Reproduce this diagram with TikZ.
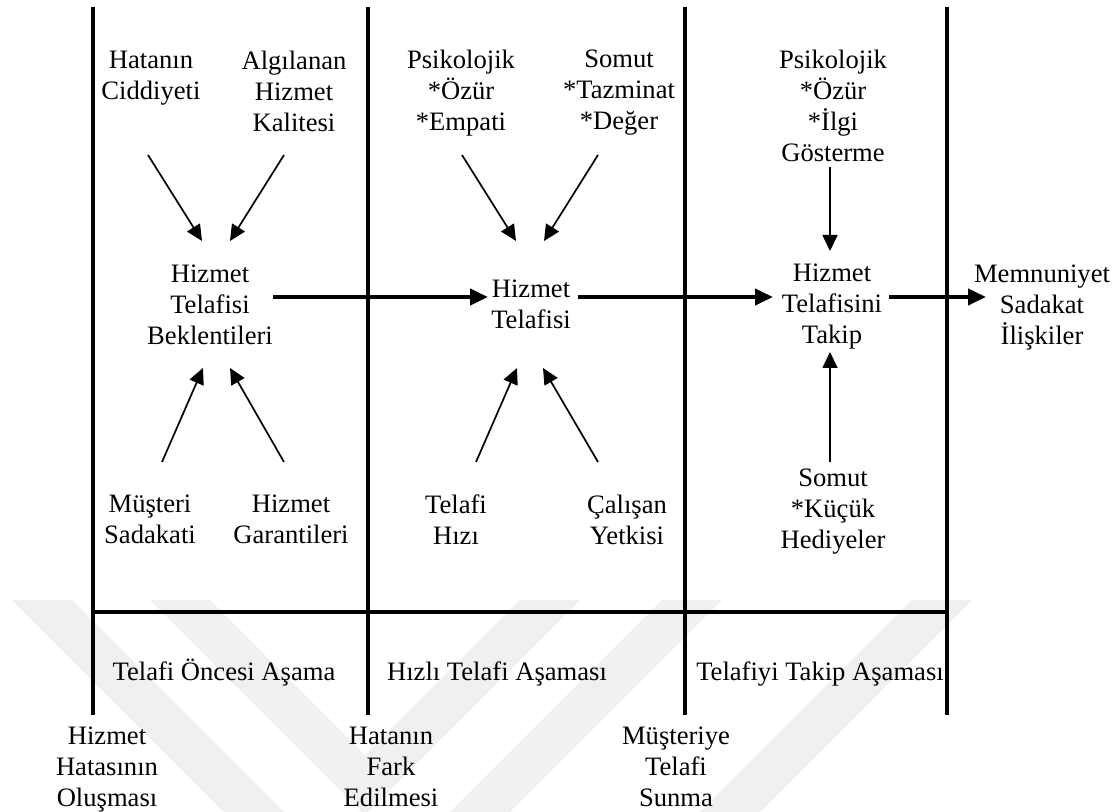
\documentclass[tikz,border=0pt]{standalone}
\usepackage{fontspec}
\setmainfont{Liberation Serif}
\usetikzlibrary{arrows.meta}
\begin{document}
\begin{tikzpicture}[x=0.5pt,y=-0.5pt,
  lbl/.style={align=center, inner sep=0pt, anchor=north, yshift=7.85pt,
    font=\fontsize{13.3}{15.5}\selectfont, execute at begin node=\strut},
  onelbl/.style={lbl, yshift=3pt},
  rule/.style={line width=2.2pt},
  thinarrow/.style={line width=0.85pt, -{Triangle[length=8pt,width=7.5pt]}},
  flow/.style={line width=2pt, -{Triangle[length=9pt,width=8pt]}},
  wmark/.style={fill=black!6, draw=none}
]
\useasboundingbox (0,0) rectangle (1118,812);

% faint background logo
\begin{scope}
\clip (0,0) rectangle (1118,812);
\fill[wmark] (12,600) -- (72,600) -- (284,812) -- (224,812) -- cycle;
\fill[wmark] (150,600) -- (365,815) -- (580,600) -- (520,600) -- (365,755) -- (210,600) -- cycle;
\fill[wmark] (450,812) -- (510,812) -- (722,600) -- (662,600) -- cycle;
\fill[wmark] (700,812) -- (760,812) -- (972,600) -- (912,600) -- cycle;
\end{scope}

% phase boundaries
\coordinate (v1t) at (93,7);   \coordinate (v1b) at (93,715);
\coordinate (v2t) at (368,7);  \coordinate (v2b) at (368,715);
\coordinate (v3t) at (685,7);  \coordinate (v3b) at (685,715);
\coordinate (v4t) at (947,7);  \coordinate (v4b) at (947,715);
\coordinate (hl) at (93,612);  \coordinate (hr) at (947,612);
\draw[rule] (v1t) -- (v1b);
\draw[rule] (v2t) -- (v2b);
\draw[rule] (v3t) -- (v3b);
\draw[rule] (v4t) -- (v4b);
\draw[rule] (hl) -- (hr);

% pre-recovery phase
\node[lbl] (ciddiyet) at (151,66) {Hatanın\\Ciddiyeti};
\node[lbl] (kalite) at (294,66) {Algılanan\\Hizmet\\Kalitesi};
\node[lbl] (beklenti) at (210,280) {Hizmet\\Telafisi\\Beklentileri};
\node[lbl] (sadakat) at (150,510) {Müşteri\\Sadakati};
\node[lbl] (garanti) at (291,510) {Hizmet\\Garantileri};

% immediate recovery phase
\node[lbl] (psiko) at (461,65) {Psikolojik\\*Özür\\*Empati};
\node[lbl] (somut) at (619,65) {Somut\\*Tazminat\\*Değer};
\node[lbl] (telafi) at (531,295) {Hizmet\\Telafisi};
\node[lbl] (hiz) at (456,510) {Telafi\\Hızı};
\node[lbl] (yetki) at (627,510) {Çalışan\\Yetkisi};

% follow-up phase
\node[lbl] (psiko2) at (833,65) {Psikolojik\\*Özür\\*İlgi\\Gösterme};
\node[lbl] (takip) at (832,279) {Hizmet\\Telafisini\\Takip};
\node[lbl] (hediye) at (833,484) {Somut\\*Küçük\\Hediyeler};
\node[lbl] (sonuc) at (1042,280) {Memnuniyet\\Sadakat\\İlişkiler};

% phase names
\node[onelbl] (faz1) at (224,680) {Telafi Öncesi Aşama};
\node[onelbl] (faz2) at (497,680) {Hızlı Telafi Aşaması};
\node[onelbl] (faz3) at (820,680) {Telafiyi Takip Aşaması};

% milestones
\node[lbl] (olus) at (107,742) {Hizmet\\Hatasının\\Oluşması};
\node[lbl] (fark) at (391,742) {Hatanın\\Fark\\Edilmesi};
\node[lbl] (sunma) at (676,742) {Müşteriye\\Telafi\\Sunma};

% arrow end points
\coordinate (a1s) at (148,155); \coordinate (a1e) at (202,241);
\coordinate (a2s) at (284,155); \coordinate (a2e) at (230,241);
\coordinate (a3s) at (162,462); \coordinate (a3e) at (203,368);
\coordinate (a4s) at (284,462); \coordinate (a4e) at (230,368);
\coordinate (b1s) at (462,155); \coordinate (b1e) at (516,241);
\coordinate (b2s) at (598,155); \coordinate (b2e) at (544,241);
\coordinate (b3s) at (476,462); \coordinate (b3e) at (517,368);
\coordinate (b4s) at (598,462); \coordinate (b4e) at (543,368);
\coordinate (c1s) at (830,167); \coordinate (c1e) at (830,251);
\coordinate (c2s) at (830,462); \coordinate (c2e) at (830,352);
\coordinate (f1s) at (273,297); \coordinate (f1e) at (488,297);
\coordinate (f2s) at (578,297); \coordinate (f2e) at (773,297);
\coordinate (f3s) at (889,297); \coordinate (f3e) at (986,297);

\draw[thinarrow] (a1s) -- (a1e);
\draw[thinarrow] (a2s) -- (a2e);
\draw[thinarrow] (a3s) -- (a3e);
\draw[thinarrow] (a4s) -- (a4e);
\draw[thinarrow] (b1s) -- (b1e);
\draw[thinarrow] (b2s) -- (b2e);
\draw[thinarrow] (b3s) -- (b3e);
\draw[thinarrow] (b4s) -- (b4e);
\draw[thinarrow] (c1s) -- (c1e);
\draw[thinarrow] (c2s) -- (c2e);
\draw[flow] (f1s) -- (f1e);
\draw[flow] (f2s) -- (f2e);
\draw[flow] (f3s) -- (f3e);
\end{tikzpicture}
\end{document}
